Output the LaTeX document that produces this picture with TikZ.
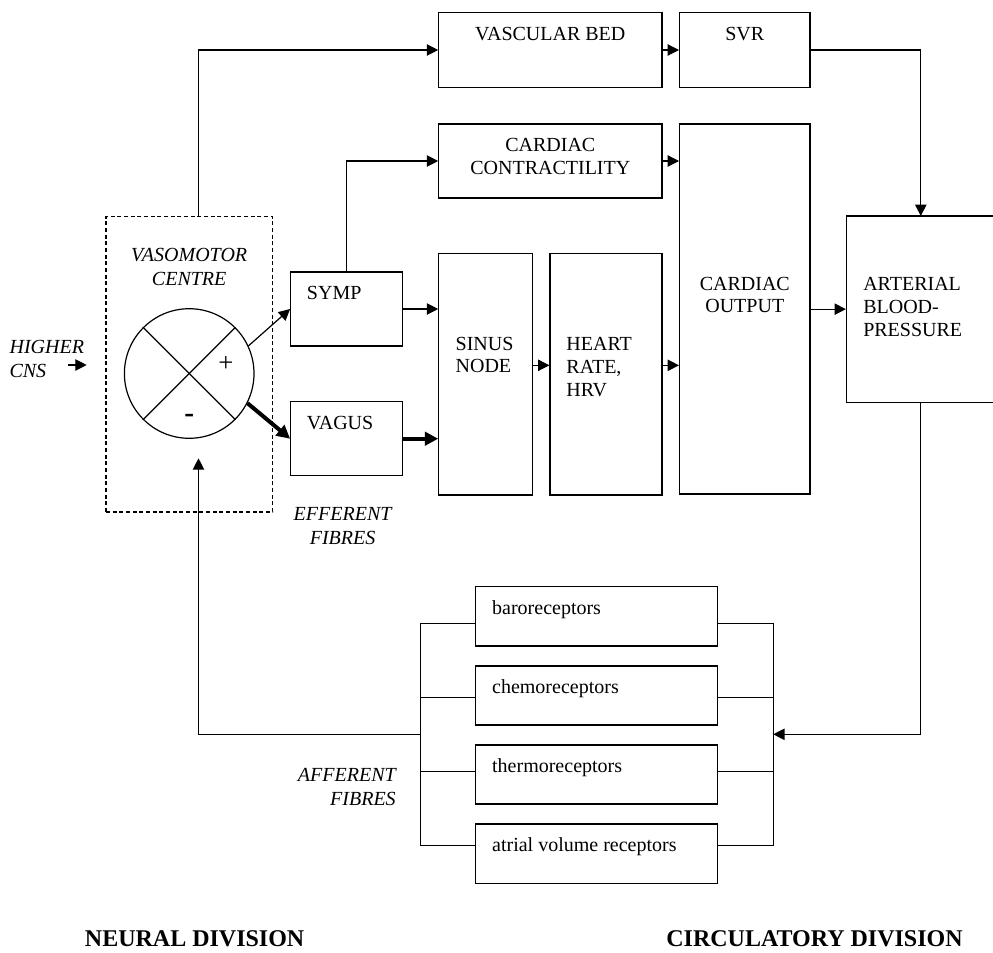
\documentclass[tikz,border=0pt]{standalone}
\usepackage{fontspec}
\setmainfont{Liberation Serif}
\usetikzlibrary{arrows.meta,fit,calc}
\begin{document}
\begin{tikzpicture}[x=0.75pt,y=-0.75pt,
  box/.style={draw, line width=0.9pt, inner sep=0pt},
  vmcbox/.style={draw, line width=0.8pt, dash pattern=on 3pt off 2pt, inner sep=0pt},
  txt/.style={inner sep=0pt, font=\fontsize{15}{17}\selectfont},
  itxt/.style={inner sep=0pt, font=\fontsize{15}{18}\selectfont\itshape},
  btxt/.style={inner sep=0pt, font=\fontsize{18}{20}\selectfont\bfseries},
  wire/.style={line width=0.9pt},
  arr/.style={wire, -{Triangle[length=8.5pt,width=8.5pt]}},
  thickarr/.style={line width=3pt, -{Triangle[length=10pt,width=10pt]}},
]
\clip (0,0) rectangle (993,953);
\fill[white] (0,0) rectangle (993,953);

% boxes
\node[box, fit={(438.8,12.7)(661.9,87.3)}] (vb) {};
\node[box, fit={(679.6,12.7)(810,87.3)}] (svr) {};
\node[box, fit={(438.8,124)(661.9,198)}] (cc) {};
\node[box, fit={(679.6,124)(810,494)}] (co) {};
\node[box, fit={(846.5,216)(1000,402.3)}] (abp) {};
\node[box, fit={(438.8,253.3)(532.3,495)}] (sn) {};
\node[box, fit={(550,253.3)(661.9,495)}] (hr) {};
\node[box, fit={(290.7,272)(402.7,346)}] (symp) {};
\node[box, fit={(290.7,401.7)(402.7,475.7)}] (vagus) {};
\node[vmcbox, fit={(106,216.7)(272.7,512)}] (vmc) {};
\node[draw, circle, line width=0.9pt, minimum size=97.2pt, inner sep=0pt] (sum) at (189.2,373.5) {};
\node[box, fit={(475.8,586.7)(717.3,646)}] (baro) {};
\node[box, fit={(475.8,666)(717.3,725)}] (chemo) {};
\node[box, fit={(475.8,745)(717.3,804)}] (thermo) {};
\node[box, fit={(475.8,824)(717.3,883.3)}] (atrial) {};

% texts (base anchor of a multi-line node = baseline of its last line)
\node[txt, anchor=base] (tvb) at (550.3,40.7) {VASCULAR BED};
\node[txt, anchor=base] (tsvr) at (744.8,40.7) {SVR};
\node[txt, anchor=base, align=center] (tcc) at (550.3,174) {CARDIAC\\CONTRACTILITY};
\node[txt, anchor=base, align=center] (tco) at (744.8,312.7) {CARDIAC\\OUTPUT};
\node[txt, anchor=base west, align=left] (tabp) at (863,336) {ARTERIAL\\BLOOD-\\PRESSURE};
\node[txt, anchor=base west, align=left] (tsn) at (455.4,372.7) {SINUS\\NODE};
\node[txt, anchor=base west, align=left] (thr) at (566.2,396) {HEART\\RATE,\\HRV};
\node[txt, anchor=base west] (tsymp) at (306.7,299) {SYMP};
\node[txt, anchor=base west] (tvagus) at (306.7,429) {VAGUS};
\node[itxt, anchor=base, align=center] (tvmc) at (189.2,285.3) {VASOMOTOR\\CENTRE};
\node[itxt, anchor=base west, align=left] (thc) at (9.3,377.3) {HIGHER\\CNS};
\node[itxt, anchor=base, align=center] (teff) at (342.6,544) {EFFERENT\\FIBRES};
\node[itxt, anchor=base east, align=right] (taff) at (396,805) {AFFERENT\\FIBRES};
\node[inner sep=0pt, font=\fontsize{20}{20}\selectfont] (plus) at (226,364) {+};
\node[inner sep=0pt, font=\fontsize{22}{22}\selectfont\bfseries] (minus) at (189.2,418) {-};
\node[txt, anchor=base west] (tbaro) at (491.9,614) {baroreceptors};
\node[txt, anchor=base west] (tchemo) at (491.9,693) {chemoreceptors};
\node[txt, anchor=base west] (tthermo) at (491.9,772) {thermoreceptors};
\node[txt, anchor=base west] (tatrial) at (491.9,851) {atrial volume receptors};
\node[btxt, anchor=base west] (neural) at (84.7,946) {NEURAL DIVISION};
\node[btxt, anchor=base east] (circdiv) at (963,946) {CIRCULATORY DIVISION};

% helper coordinates
\coordinate (vmcout) at (198.5,216.7);
\coordinate (vmcin) at (198.5,458.3);
\coordinate (abpin) at (920.8,216);
\coordinate (abpout) at (920.8,402.3);
\coordinate (sympup) at (346.7,272);
\coordinate (hrrow) at (0,365.3);
\coordinate (hcs) at (68.3,365);
\coordinate (hce) at (86.7,365);
\coordinate (rtop) at (773.2,623.7);
\coordinate (rbot) at (773.2,845.7);
\coordinate (ltop) at (420.3,623.7);
\coordinate (lbot) at (420.3,845.7);
\coordinate (y2) at (0,697.7);
\coordinate (y3) at (0,771.7);
\coordinate (rin) at (773.2,734.3);
\coordinate (lout) at (420.3,734.3);

% circle cross
\draw[wire] (sum.45) -- (sum.225);
\draw[wire] (sum.135) -- (sum.315);

% connectors
\draw[arr] (hcs) -- (hce);
\draw[arr] (vmcout) |- (vb.west);
\draw[arr] (vb.east) -- (svr.west);
\draw[arr] (svr.east) -| (abpin);
\draw[arr] (sympup) |- (cc.west);
\draw[arr] (cc.east) -- (cc.east -| co.west);
\draw[arr] (sum.25.5) -- (symp.west);
\draw[thickarr] (sum.-27) -- (vagus.west);
\draw[arr] (symp.east) -- (symp.east -| sn.west);
\draw[thickarr] (vagus.east) -- (vagus.east -| sn.west);
\draw[arr] (sn.east |- hrrow) -- (hr.west |- hrrow);
\draw[arr] (hr.east |- hrrow) -- (co.west |- hrrow);
\draw[arr] (co.east |- abp.west) -- (abp.west);
\draw[arr] (abpout) |- (rin);
\draw[wire] (baro.east |- rtop) -- (rtop) -- (rbot) -- (atrial.east |- rbot);
\draw[wire] (chemo.east |- y2) -- (rtop |- y2);
\draw[wire] (thermo.east |- y3) -- (rtop |- y3);
\draw[wire] (baro.west |- ltop) -- (ltop) -- (lbot) -- (atrial.west |- lbot);
\draw[wire] (chemo.west |- y2) -- (ltop |- y2);
\draw[wire] (thermo.west |- y3) -- (ltop |- y3);
\draw[arr] (lout) -| (vmcin);
\end{tikzpicture}
\end{document}
